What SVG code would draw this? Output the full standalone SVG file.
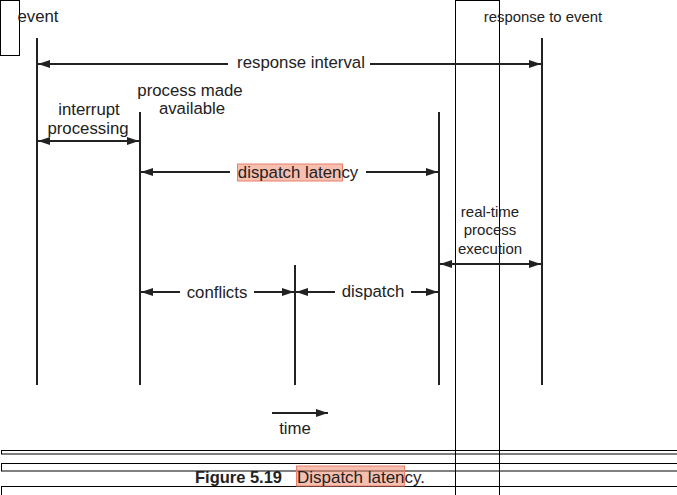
<svg xmlns="http://www.w3.org/2000/svg" width="677" height="495" viewBox="0 0 677 495">
<defs>
<marker id="ah" markerUnits="userSpaceOnUse" markerWidth="13" markerHeight="9" refX="12" refY="4" orient="auto-start-reverse">
<path d="M0,0 L12,4 L0,8 z" fill="#222"/>
</marker>
<style>
.t{font-family:"Liberation Sans",Arial,sans-serif;font-size:16.8px;fill:#222;text-anchor:middle}
.s{font-size:14.9px}
.m{font-size:15px}
.c{font-size:16.6px;text-anchor:start}
.v{stroke:#222;stroke-width:2;fill:none}
.a{stroke:#222;stroke-width:2;fill:none;marker-end:url(#ah)}
.box{fill:none;stroke:#000;stroke-width:1}
.hl{fill:#f08060;fill-opacity:0.5;stroke:#e8806a;stroke-width:1}
</style>
</defs>
<rect width="677" height="495" fill="#fff"/>
<g id="guides">
<rect class="box" x="0.5" y="0.5" width="19" height="55"/>
<rect class="box" x="455.5" y="0.5" width="44" height="500"/>
<rect class="box" x="1.5" y="450.5" width="680" height="3.5"/>
<rect class="box" x="1.5" y="463.5" width="680" height="7.5"/>
<rect class="box" x="1.5" y="486.5" width="680" height="20"/>
</g>
<g id="timelines">
<line class="v" x1="37" y1="38" x2="37" y2="385"/>
<line class="v" x1="140" y1="112" x2="140" y2="385"/>
<line class="v" x1="295" y1="265" x2="295" y2="385"/>
<line class="v" x1="439" y1="112" x2="439" y2="385"/>
<line class="v" x1="542" y1="38" x2="542" y2="385"/>
</g>
<g id="connectors">
<line class="a" x1="228" y1="64" x2="38" y2="64"/>
<line class="a" x1="370" y1="64" x2="541" y2="64"/>
<line class="a" x1="90" y1="141" x2="38" y2="141"/>
<line class="a" x1="90" y1="141" x2="139" y2="141"/>
<line class="a" x1="230" y1="172" x2="141" y2="172"/>
<line class="a" x1="366" y1="172" x2="438" y2="172"/>
<line class="a" x1="490" y1="264" x2="440" y2="264"/>
<line class="a" x1="490" y1="264" x2="541" y2="264"/>
<line class="a" x1="180" y1="292" x2="141" y2="292"/>
<line class="a" x1="254" y1="292" x2="294" y2="292"/>
<line class="a" x1="335" y1="292" x2="296" y2="292"/>
<line class="a" x1="411" y1="292" x2="438" y2="292"/>
<line class="a" x1="272" y1="413" x2="328" y2="413"/>
</g>
<g id="event"><text class="t" x="38" y="22">event</text></g>
<g id="response-to-event"><text class="t s" x="543" y="22">response to event</text></g>
<g id="response-interval"><text class="t" x="301" y="68">response interval</text></g>
<g id="interrupt-processing"><text class="t" x="89" y="115">interrupt</text><text class="t" x="88" y="134">processing</text></g>
<g id="process-made-available"><text class="t" x="190" y="96">process made</text><text class="t" x="192" y="114">available</text></g>
<g id="dispatch-latency"><rect class="hl" x="237.5" y="164" width="105" height="17"/><text class="t" x="298" y="178">dispatch latency</text></g>
<g id="real-time"><text class="t m" x="490" y="217">real-time</text><text class="t m" x="490" y="235">process</text><text class="t m" x="490" y="254">execution</text></g>
<g id="conflicts"><text class="t" x="217" y="298">conflicts</text></g>
<g id="dispatch"><text class="t" x="373" y="297">dispatch</text></g>
<g id="time"><text class="t" x="295" y="434">time</text></g>
<g id="caption">
<rect class="hl" x="296.5" y="466" width="108" height="20"/>
<text class="t c" x="195" y="483" font-weight="bold" textLength="87" lengthAdjust="spacingAndGlyphs">Figure 5.19</text>
<text class="t c" x="297" y="483" textLength="128" lengthAdjust="spacingAndGlyphs">Dispatch latency.</text>
</g>
</svg>
